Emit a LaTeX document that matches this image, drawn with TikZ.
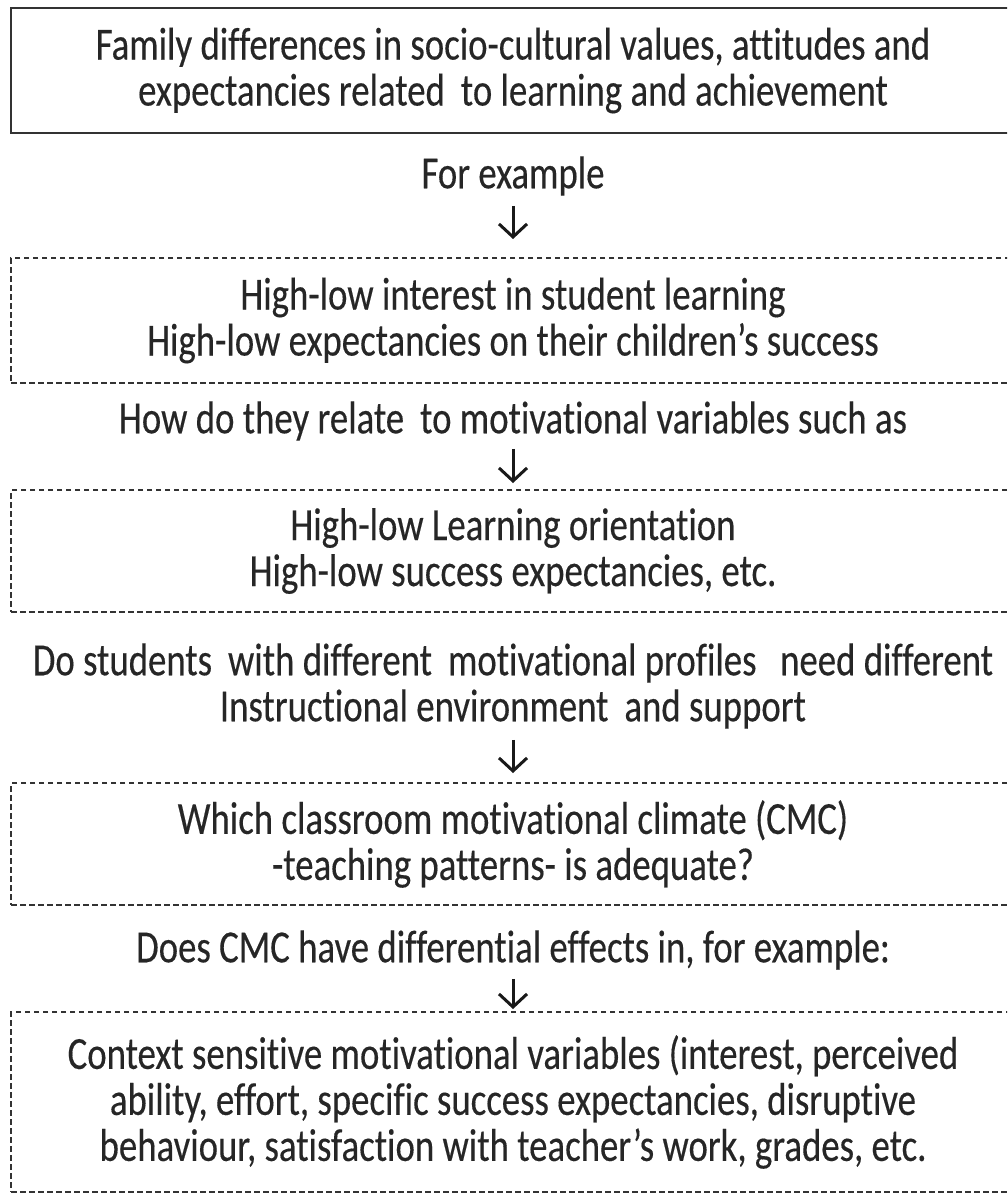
\documentclass[tikz,border=0pt]{standalone}
\usepackage{fontspec}
\setmainfont{Carlito}[FakeStretch=0.8, FakeBold=0.3, Ligatures={NoCommon}]
\usetikzlibrary{arrows.meta}
\begin{document}
\begin{tikzpicture}[x=1pt,y=1pt,
  txt/.style={font=\fontsize{46}{46}\selectfont, align=center, text=black!85, inner sep=0pt},
  solidbox/.style={txt, draw=black!80, line width=2.2pt, minimum width=1004pt, minimum height=125pt},
  dashbox/.style={txt, draw=black!80, line width=2pt, dash pattern=on 5.5pt off 3.5pt, minimum width=1004pt},
  lbl/.style={txt},
  arr/.style={draw=black!90, line width=3pt, -{Straight Barb[length=13pt,width=28pt,line width=3pt]}}
]
\useasboundingbox (0,0) rectangle (1007,-1197);
\clip (0,0) rectangle (1007,-1197);
\fill[white] (0,0) rectangle (1007,-1197);

\node[solidbox] (b1) at (513,-70.5) {Family differences in socio-cultural values, attitudes and\\expectancies related\, to learning and achievement};
\node[lbl] (l1) at (513,-176) {For example};
\node[dashbox, minimum height=125pt] (b2) at (513,-320.5) {High-low interest in student learning\\High-low expectancies on their children’s success};
\node[lbl] (l2) at (513,-421) {How do they relate\, to motivational variables such as};
\node[dashbox, minimum height=122pt] (b3) at (513,-551) {High-low Learning orientation\\High-low success expectancies, etc.};
\node[lbl] (l3) at (513,-686) {Do students\, with different\, motivational profiles\,\, need different\\Instructional environment\, and support};
\node[dashbox, minimum height=122pt] (b4) at (513,-844) {Which classroom motivational climate (CMC)\\-teaching patterns- is adequate?};
\node[lbl] (l4) at (513,-950) {Does CMC have differential effects in, for example:};
\node[dashbox, minimum height=180pt] (b5) at (513,-1102) {Context sensitive motivational variables (interest, perceived\\ability, effort, specific success expectancies, disruptive\\behaviour, satisfaction with teacher’s work, grades, etc.};

\draw[arr] ([yshift=-10pt]l1.south) -- ([yshift=18pt]b2.north);
\draw[arr] ([yshift=-8pt]l2.south) -- ([yshift=6pt]b3.north);
\draw[arr] ([yshift=-11pt]l3.south) -- ([yshift=9pt]b4.north);
\draw[arr] ([yshift=-9pt]l4.south) -- ([yshift=2pt]b5.north);
\end{tikzpicture}
\end{document}
